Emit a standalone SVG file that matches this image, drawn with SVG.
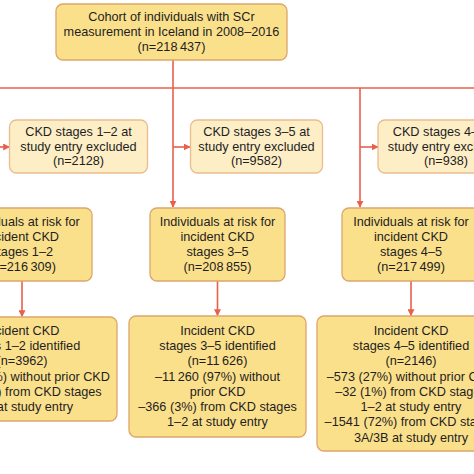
<svg xmlns="http://www.w3.org/2000/svg" width="474" height="474" viewBox="0 0 474 474">
<defs>
<marker id="ah" viewBox="0 0 10 10" refX="9" refY="5" markerWidth="7" markerHeight="7" markerUnits="userSpaceOnUse" orient="auto"><path d="M0,0 L10,5 L0,10 z" fill="#e8604c"/></marker>
<style>
.main{fill:#fbe08c;stroke:#dca66c;stroke-width:1.3}
.excl{fill:#fdeec6;stroke:#e9bd90;stroke-width:1.3}
.t{font-family:"Liberation Sans",Arial,sans-serif;font-size:12.7px;fill:#1e1e1e;text-anchor:middle}
.e{text-anchor:end}
.c{fill:none;stroke:#e8604c;stroke-width:1.6}
</style>
</defs>
<rect width="474" height="474" fill="#ffffff"/>
<g id="connectors">
<line class="c" x1="0" y1="88" x2="474" y2="88"/>
<line class="c" x1="173" y1="60" x2="173" y2="88"/>
<line class="c" x1="173" y1="88" x2="173" y2="207" marker-end="url(#ah)"/>
<line class="c" x1="360" y1="88" x2="360" y2="207" marker-end="url(#ah)"/>
<line class="c" x1="0" y1="147" x2="9.5" y2="147" marker-end="url(#ah)"/>
<line class="c" x1="173" y1="147" x2="190" y2="147" marker-end="url(#ah)"/>
<line class="c" x1="360" y1="147" x2="378" y2="147" marker-end="url(#ah)"/>
<line class="c" x1="22" y1="281" x2="22" y2="316.5" marker-end="url(#ah)"/>
<line class="c" x1="217.5" y1="281" x2="217.5" y2="315.5" marker-end="url(#ah)"/>
<line class="c" x1="411" y1="281" x2="411" y2="315.5" marker-end="url(#ah)"/>
</g>
<g id="cohort">
<rect class="main" x="56" y="4" width="231" height="56" rx="7"/>
<text class="t" x="171.5" y="21.3">Cohort of individuals with SCr</text>
<text class="t" x="171.5" y="36">measurement in Iceland in 2008–2016</text>
<text class="t" x="171.5" y="50.5">(n=218&#8201;437)</text>
</g>
<g id="excl12">
<rect class="excl" x="9.5" y="120" width="138" height="53" rx="7"/>
<text class="t" x="78.5" y="136">CKD stages 1–2 at</text>
<text class="t" x="78.5" y="150.5">study entry excluded</text>
<text class="t" x="78.5" y="165">(n=2128)</text>
</g>
<g id="excl35">
<rect class="excl" x="190.5" y="120" width="132" height="53" rx="7"/>
<text class="t" x="256.5" y="136">CKD stages 3–5 at</text>
<text class="t" x="256.5" y="150.5">study entry excluded</text>
<text class="t" x="256.5" y="165">(n=9582)</text>
</g>
<g id="excl45">
<rect class="excl" x="378" y="120" width="137" height="53" rx="7"/>
<text class="t" x="446" y="136">CKD stages 4–5 at</text>
<text class="t" x="446" y="150.5">study entry excluded</text>
<text class="t" x="446" y="165">(n=938)</text>
</g>
<g id="risk12">
<rect class="main" x="-48" y="208" width="140" height="73" rx="7"/>
<text class="t" x="22" y="226">Individuals at risk for</text>
<text class="t" x="22" y="241">incident CKD</text>
<text class="t" x="22" y="256">stages 1–2</text>
<text class="t" x="22" y="271">(n=216&#8201;309)</text>
</g>
<g id="risk35">
<rect class="main" x="150" y="208" width="135" height="73" rx="7"/>
<text class="t" x="217.5" y="226">Individuals at risk for</text>
<text class="t" x="217.5" y="241">incident CKD</text>
<text class="t" x="217.5" y="256">stages 3–5</text>
<text class="t" x="217.5" y="271">(n=208&#8201;855)</text>
</g>
<g id="risk45">
<rect class="main" x="342" y="208" width="138" height="73" rx="7"/>
<text class="t" x="411" y="226">Individuals at risk for</text>
<text class="t" x="411" y="241">incident CKD</text>
<text class="t" x="411" y="256">stages 4–5</text>
<text class="t" x="411" y="271">(n=217&#8201;499)</text>
</g>
<g id="inc12">
<rect class="main" x="-73" y="317" width="190" height="104" rx="7"/>
<text class="t" x="22" y="334.5">Incident CKD</text>
<text class="t" x="22" y="349.5">stages 1–2 identified</text>
<text class="t" x="22" y="365">(n=3962)</text>
<text class="t e" x="110" y="380.5">%) without prior CKD</text>
<text class="t e" x="101.7" y="396">) from CKD stages</text>
<text class="t e" x="73" y="411">at study entry</text>
</g>
<g id="inc35">
<rect class="main" x="129" y="316" width="177" height="121" rx="7"/>
<text class="t" x="217.5" y="334.5">Incident CKD</text>
<text class="t" x="217.5" y="349.5">stages 3–5 identified</text>
<text class="t" x="217.5" y="365">(n=11&#8201;626)</text>
<text class="t" x="217.5" y="380.5">–11&#8201;260 (97%) without</text>
<text class="t" x="217.5" y="396">prior CKD</text>
<text class="t" x="217.5" y="411">–366 (3%) from CKD stages</text>
<text class="t" x="217.5" y="426">1–2 at study entry</text>
</g>
<g id="inc45">
<rect class="main" x="317" y="316" width="188" height="135" rx="7"/>
<text class="t" x="411" y="334.5">Incident CKD</text>
<text class="t" x="411" y="349.5">stages 4–5 identified</text>
<text class="t" x="411" y="365">(n=2146)</text>
<text class="t" x="411" y="380.5">–573 (27%) without prior CKD</text>
<text class="t" x="411" y="396">–32 (1%) from CKD stages</text>
<text class="t" x="411" y="411">1–2 at study entry</text>
<text class="t" x="411" y="426">–1541 (72%) from CKD stages</text>
<text class="t" x="411" y="441.5">3A/3B at study entry</text>
</g>
</svg>
